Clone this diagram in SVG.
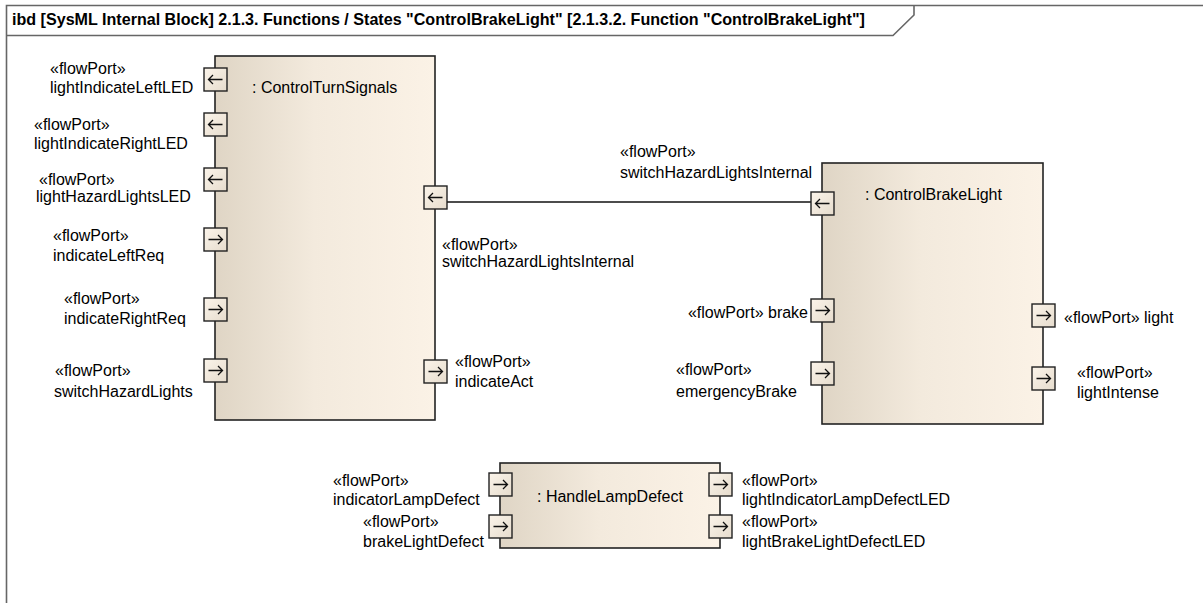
<svg xmlns="http://www.w3.org/2000/svg" width="1203" height="603" viewBox="0 0 1203 603">
<style>
text{font-family:"Liberation Sans",Arial,sans-serif;font-size:16px;fill:#000}
.title{font-weight:bold;font-size:16.1px}
.frame{fill:none;stroke:#666;stroke-width:1.6}
.block{fill:url(#bg);stroke:#222;stroke-width:1.6}
.port{fill:url(#pg);stroke:#222;stroke-width:1.4}
.arr{fill:none;stroke:#111;stroke-width:1.3}
.conn{fill:none;stroke:#111;stroke-width:1.4}
</style>
<defs>
<linearGradient id="bg" x1="0" y1="0" x2="1" y2="0">
<stop offset="0" stop-color="#dfd5c5"/>
<stop offset="0.45" stop-color="#f3eadd"/>
<stop offset="1" stop-color="#fbf2e6"/>
</linearGradient>
<linearGradient id="pg" x1="0" y1="0" x2="1" y2="1">
<stop offset="0" stop-color="#fbf4ea"/>
<stop offset="1" stop-color="#e6dccd"/>
</linearGradient>
<g id="pr"><rect class="port" x="0" y="0" width="23" height="23"/><path class="arr" d="M4.5,11.5H18.5M14,7L18.5,11.5L14,16"/></g>
<g id="pl"><rect class="port" x="0" y="0" width="23" height="23"/><path class="arr" d="M4.5,11.5H18.5M9,7L4.5,11.5L9,16"/></g>
</defs>
<rect width="1203" height="603" fill="#fff"/>
<g id="frame">
<path class="frame" d="M6.5,603V5.5H1203"/>
<path class="frame" d="M6.5,35.5H893L914,15V5.5"/>
<text class="title" x="12" y="25">ibd [SysML Internal Block] 2.1.3. Functions / States "ControlBrakeLight" [2.1.3.2. Function "ControlBrakeLight"]</text>
</g>
<g id="connectors">
<path class="conn" d="M447,202H811"/>
</g>
<g id="ControlTurnSignals">
<rect class="block" x="215" y="56" width="220" height="364"/>
<text x="252" y="93">: ControlTurnSignals</text>
<use href="#pl" x="204" y="68"/>
<use href="#pl" x="204" y="113"/>
<use href="#pl" x="204" y="168"/>
<use href="#pr" x="204" y="228"/>
<use href="#pr" x="204" y="298"/>
<use href="#pr" x="204" y="359"/>
<use href="#pl" x="424" y="186"/>
<use href="#pr" x="424" y="360"/>
<text x="50" y="74">«flowPort»</text><text x="50" y="93">lightIndicateLeftLED</text>
<text x="34" y="130">«flowPort»</text><text x="34" y="149">lightIndicateRightLED</text>
<text x="39" y="185">«flowPort»</text><text x="36" y="202">lightHazardLightsLED</text>
<text x="53" y="241">«flowPort»</text><text x="53" y="261">indicateLeftReq</text>
<text x="64" y="304">«flowPort»</text><text x="64" y="324">indicateRightReq</text>
<text x="55" y="376">«flowPort»</text><text x="54" y="397">switchHazardLights</text>
<text x="442" y="250">«flowPort»</text><text x="442" y="267">switchHazardLightsInternal</text>
<text x="455" y="367">«flowPort»</text><text x="455" y="387">indicateAct</text>
</g>
<g id="ControlBrakeLight">
<rect class="block" x="822" y="163" width="221" height="261"/>
<text x="865" y="200">: ControlBrakeLight</text>
<use href="#pl" x="811" y="192"/>
<use href="#pr" x="811" y="299"/>
<use href="#pr" x="811" y="362"/>
<use href="#pr" x="1032" y="304"/>
<use href="#pr" x="1032" y="367"/>
<text x="620" y="157">«flowPort»</text><text x="620" y="178">switchHazardLightsInternal</text>
<text x="808" y="318" text-anchor="end">«flowPort» brake</text>
<text x="676" y="375">«flowPort»</text><text x="676" y="397">emergencyBrake</text>
<text x="1064" y="323">«flowPort» light</text>
<text x="1077" y="378">«flowPort»</text><text x="1077" y="398">lightIntense</text>
</g>
<g id="HandleLampDefect">
<rect class="block" x="500" y="463" width="220" height="85"/>
<text x="537" y="502">: HandleLampDefect</text>
<use href="#pr" x="489" y="473"/>
<use href="#pr" x="489" y="515"/>
<use href="#pr" x="709" y="473"/>
<use href="#pr" x="709" y="515"/>
<text x="333" y="486">«flowPort»</text><text x="333" y="505">indicatorLampDefect</text>
<text x="363" y="527">«flowPort»</text><text x="363" y="547">brakeLightDefect</text>
<text x="742" y="486">«flowPort»</text><text x="742" y="505">lightIndicatorLampDefectLED</text>
<text x="742" y="527">«flowPort»</text><text x="742" y="547">lightBrakeLightDefectLED</text>
</g>
</svg>
